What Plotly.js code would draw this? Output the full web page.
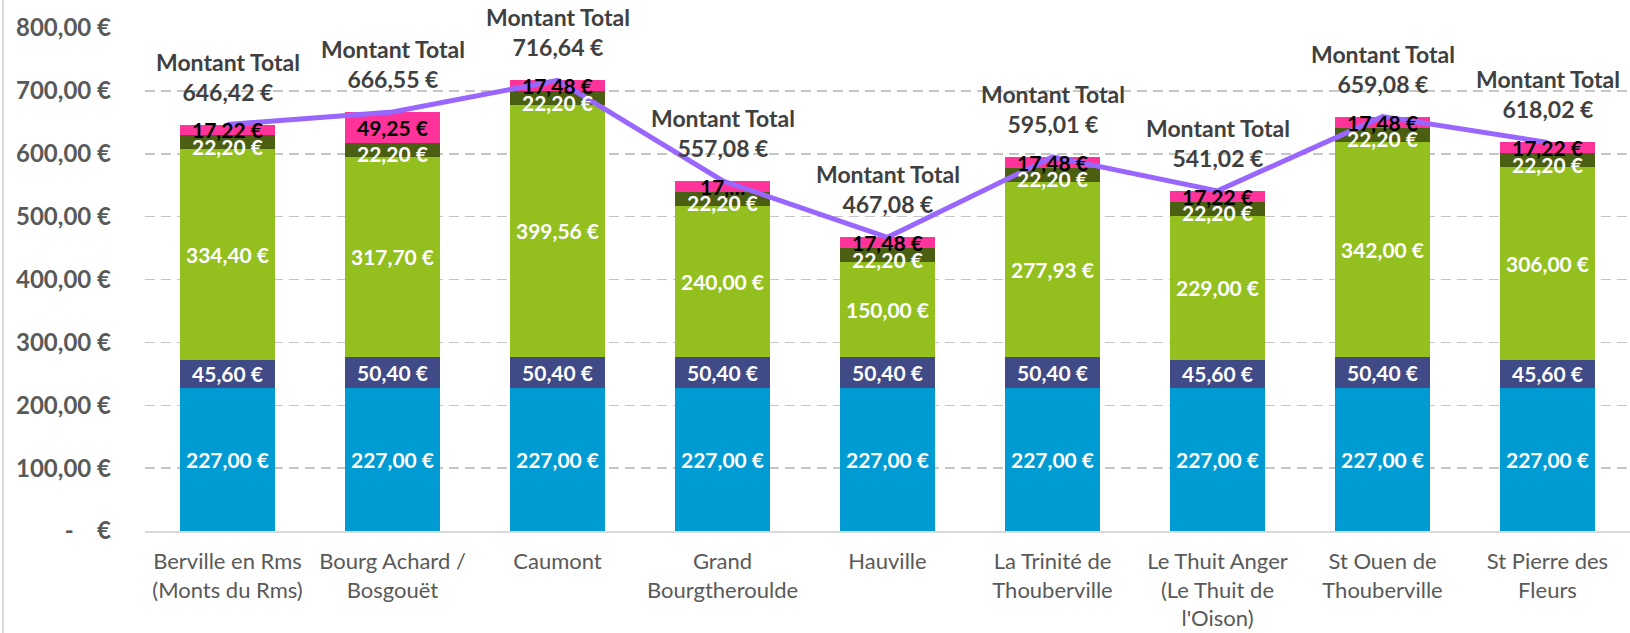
<!DOCTYPE html>
<html>
<head>
<meta charset="utf-8">
<script src="https://cdn.plot.ly/plotly-3.0.1.min.js"></script>
<style>
html,body{margin:0;padding:0;background:#fff;}
#chart{position:absolute;left:0;top:0;width:1630px;height:633px;}
#frame{position:absolute;left:2px;top:0;width:2px;height:633px;background:#D9D9D9;}
</style>
</head>
<body>
<div id="chart"></div>
<div id="frame"></div>
<script>
const categories = [
  'Berville en Rms<br>(Monts du Rms)',
  'Bourg Achard /<br>Bosgouët',
  'Caumont',
  'Grand<br>Bourgtheroulde',
  'Hauville',
  'La Trinité de<br>Thouberville',
  'Le Thuit Anger<br>(Le Thuit de<br>l\'Oison)',
  'St Ouen de<br>Thouberville',
  'St Pierre des<br>Fleurs'
];
const part1 = [227, 227, 227, 227, 227, 227, 227, 227, 227];
const part2 = [45.6, 50.4, 50.4, 50.4, 50.4, 50.4, 45.6, 50.4, 45.6];
const part3 = [334.4, 317.7, 399.56, 240, 150, 277.93, 229, 342, 306];
const part4 = [22.2, 22.2, 22.2, 22.2, 22.2, 22.2, 22.2, 22.2, 22.2];
const part5 = [17.22, 49.25, 17.48, 17.48, 17.48, 17.48, 17.22, 17.48, 17.22];
const part5Labels = ['17,22 €', '49,25 €', '17,48 €', '17,…', '17,48 €', '17,48 €', '17,22 €', '17,48 €', '17,22 €'];
const totals = [646.42, 666.55, 716.64, 557.08, 467.08, 595.01, 541.02, 659.08, 618.02];
const yTicks = [0, 100, 200, 300, 400, 500, 600, 700, 800];
const yTickLabels = ['-\u00a0\u00a0\u00a0\u00a0€', '100,00 €', '200,00 €', '300,00 €', '400,00 €', '500,00 €', '600,00 €', '700,00 €', '800,00 €'];

const FONT = 'Lato, "Open Sans", sans-serif';
const fmt = v => v.toFixed(2).replace('.', ',') + ' €';

function barTrace(vals, color, withText) {
  return {
    type: 'bar', x: categories, y: vals,
    marker: {color: color, line: {width: 0}},
    text: withText ? vals.map(fmt) : undefined,
    textposition: withText ? 'inside' : 'none',
    insidetextanchor: 'middle',
    textangle: 0,
    constraintext: 'none',
    textfont: {family: FONT, size: 21, color: '#FFFFFF', weight: 'bold'},
    hoverinfo: 'skip',
    showlegend: false
  };
}

const traces = [
  barTrace(part1, '#009BD2', true),
  barTrace(part2, '#3F4A86', true),
  barTrace(part3, '#93C01F', true),
  barTrace(part4, '#4B5F12', false),
  barTrace(part5, '#FF3399', false),
  {
    type: 'scatter', mode: 'lines', x: categories, y: totals,
    line: {color: '#9966FF', width: 5},
    hoverinfo: 'skip', showlegend: false
  }
];

const annotations = [];
categories.forEach((c, i) => {
  const oliveMid = part1[i] + part2[i] + part3[i] + part4[i] / 2;
  const pinkMid = part1[i] + part2[i] + part3[i] + part4[i] + part5[i] / 2;
  annotations.push({
    x: c, y: oliveMid, xref: 'x', yref: 'y', showarrow: false,
    text: fmt(part4[i]), yshift: -4,
    font: {family: FONT, size: 21, color: '#FFFFFF', weight: 'bold'}
  });
  annotations.push({
    x: c, y: pinkMid, xref: 'x', yref: 'y', showarrow: false,
    text: part5Labels[i], yshift: 0,
    font: {family: FONT, size: 21, color: '#000000', weight: 'bold'}
  });
  annotations.push({
    x: c, y: totals[i], xref: 'x', yref: 'y', showarrow: false,
    text: 'Montant Total<br>' + fmt(totals[i]),
    yanchor: 'bottom', yshift: 17,
    font: {family: FONT, size: 23, color: '#404040', weight: 'bold'}
  });
});

const layout = {
  width: 1630, height: 633,
  margin: {l: 145, r: 0, t: 28, b: 102},
  paper_bgcolor: '#FFFFFF', plot_bgcolor: '#FFFFFF',
  barmode: 'stack', bargap: 0.43,
  showlegend: false,
  font: {family: FONT},
  xaxis: {
    type: 'category',
    showgrid: false, zeroline: false,
    showline: true, linecolor: '#D9D9D9', linewidth: 1.5,
    ticks: '', ticklabelstandoff: 10,
    tickfont: {family: FONT, size: 22, color: '#595959'}
  },
  yaxis: {
    range: [0, 800],
    tickvals: yTicks, ticktext: yTickLabels,
    showgrid: true, gridcolor: '#C6C6C6', gridwidth: 1.5, griddash: '10px,6px',
    zeroline: false, showline: false,
    ticks: '', ticklabelstandoff: 33,
    tickfont: {family: FONT, size: 24, color: '#595959', weight: 'bold'}
  },
  annotations: annotations
};

Plotly.newPlot('chart', traces, layout, {displayModeBar: false, staticPlot: true});
</script>
</body>
</html>
